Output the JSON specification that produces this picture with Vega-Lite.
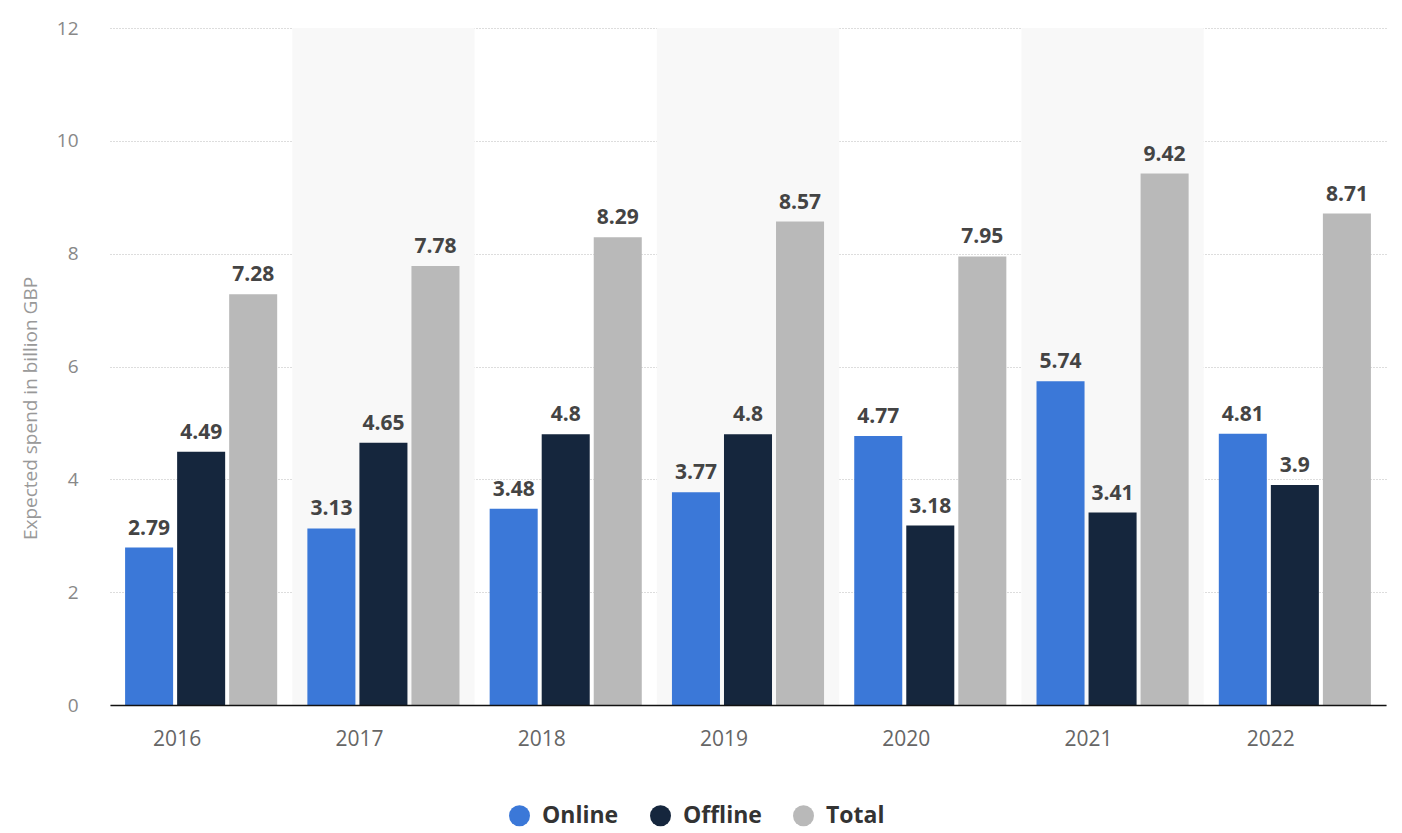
{
  "$schema": "https://vega.github.io/schema/vega-lite/v6.json",
  "width": 1276,
  "height": 677,
  "autosize": {"type": "none"},
  "padding": {"left": 110, "top": 28, "right": 16, "bottom": 128},
  "background": "white",
  "config": {
    "font": "Open Sans",
    "view": {"stroke": null}
  },
  "datasets": {
    "spend": [
      {"year": "2016", "type": "Online", "value": 2.79},
      {"year": "2016", "type": "Offline", "value": 4.49},
      {"year": "2016", "type": "Total", "value": 7.28},
      {"year": "2017", "type": "Online", "value": 3.13},
      {"year": "2017", "type": "Offline", "value": 4.65},
      {"year": "2017", "type": "Total", "value": 7.78},
      {"year": "2018", "type": "Online", "value": 3.48},
      {"year": "2018", "type": "Offline", "value": 4.8},
      {"year": "2018", "type": "Total", "value": 8.29},
      {"year": "2019", "type": "Online", "value": 3.77},
      {"year": "2019", "type": "Offline", "value": 4.8},
      {"year": "2019", "type": "Total", "value": 8.57},
      {"year": "2020", "type": "Online", "value": 4.77},
      {"year": "2020", "type": "Offline", "value": 3.18},
      {"year": "2020", "type": "Total", "value": 7.95},
      {"year": "2021", "type": "Online", "value": 5.74},
      {"year": "2021", "type": "Offline", "value": 3.41},
      {"year": "2021", "type": "Total", "value": 9.42},
      {"year": "2022", "type": "Online", "value": 4.81},
      {"year": "2022", "type": "Offline", "value": 3.9},
      {"year": "2022", "type": "Total", "value": 8.71}
    ],
    "shade": [
      {"year": "2017"},
      {"year": "2019"},
      {"year": "2021"}
    ]
  },
  "layer": [
    {
      "data": {"name": "shade"},
      "mark": {"type": "rect", "color": "#f8f8f8"},
      "encoding": {
        "x": {"field": "year", "type": "ordinal"}
      }
    },
    {
      "data": {"name": "spend"},
      "mark": {"type": "bar"},
      "encoding": {
        "x": {
          "field": "year", "type": "ordinal",
          "scale": {"domain": ["2016","2017","2018","2019","2020","2021","2022"], "paddingInner": 0, "paddingOuter": 0},
          "axis": {
            "title": null, "labelAngle": 0, "ticks": false,
            "domainColor": "#111", "domainWidth": 1.5,
            "labelFont": "Open Sans", "labelFontSize": 21, "labelColor": "#666",
            "labelPadding": 34
          }
        },
        "xOffset": {
          "field": "type", "type": "nominal",
          "sort": ["Online", "Offline", "Total"],
          "scale": {"paddingInner": 0.077, "paddingOuter": 0.29}
        },
        "y": {
          "field": "value", "type": "quantitative",
          "scale": {"domain": [0, 12], "nice": false},
          "axis": {
            "title": "Expected spend in billion GBP",
            "titleFont": "Open Sans", "titleFontSize": 19, "titleFontWeight": "normal", "titleColor": "#999",
            "titlePadding": 16, "titleY": 380,
            "values": [0, 2, 4, 6, 8, 10, 12], "format": "d",
            "domain": false, "ticks": false,
            "labelFont": "Open Sans", "labelFontSize": 19, "labelColor": "#888",
            "labelPadding": 32,
            "gridColor": "#bbbbbb", "gridDash": [1, 2], "gridWidth": 1
          }
        },
        "color": {
          "field": "type", "type": "nominal",
          "scale": {"domain": ["Online", "Offline", "Total"], "range": ["#3b78d8", "#15263d", "#b9b9b9"]},
          "legend": {
            "title": null, "orient": "none", "direction": "horizontal",
            "legendX": 398, "legendY": 776,
            "symbolType": "circle", "symbolSize": 440, "symbolStrokeWidth": 0,
            "labelFont": "Open Sans", "labelFontSize": 23, "labelFontWeight": "bold", "labelColor": "#333",
            "columnPadding": 30, "labelOffset": 11
          }
        }
      }
    },
    {
      "data": {"name": "spend"},
      "mark": {"type": "text", "dy": -19, "font": "Open Sans", "fontSize": 21, "fontWeight": "bold", "color": "#444"},
      "encoding": {
        "x": {"field": "year", "type": "ordinal"},
        "xOffset": {"field": "type", "type": "nominal", "sort": ["Online", "Offline", "Total"]},
        "y": {"field": "value", "type": "quantitative"},
        "text": {"field": "value", "type": "quantitative"}
      }
    }
  ]
}
